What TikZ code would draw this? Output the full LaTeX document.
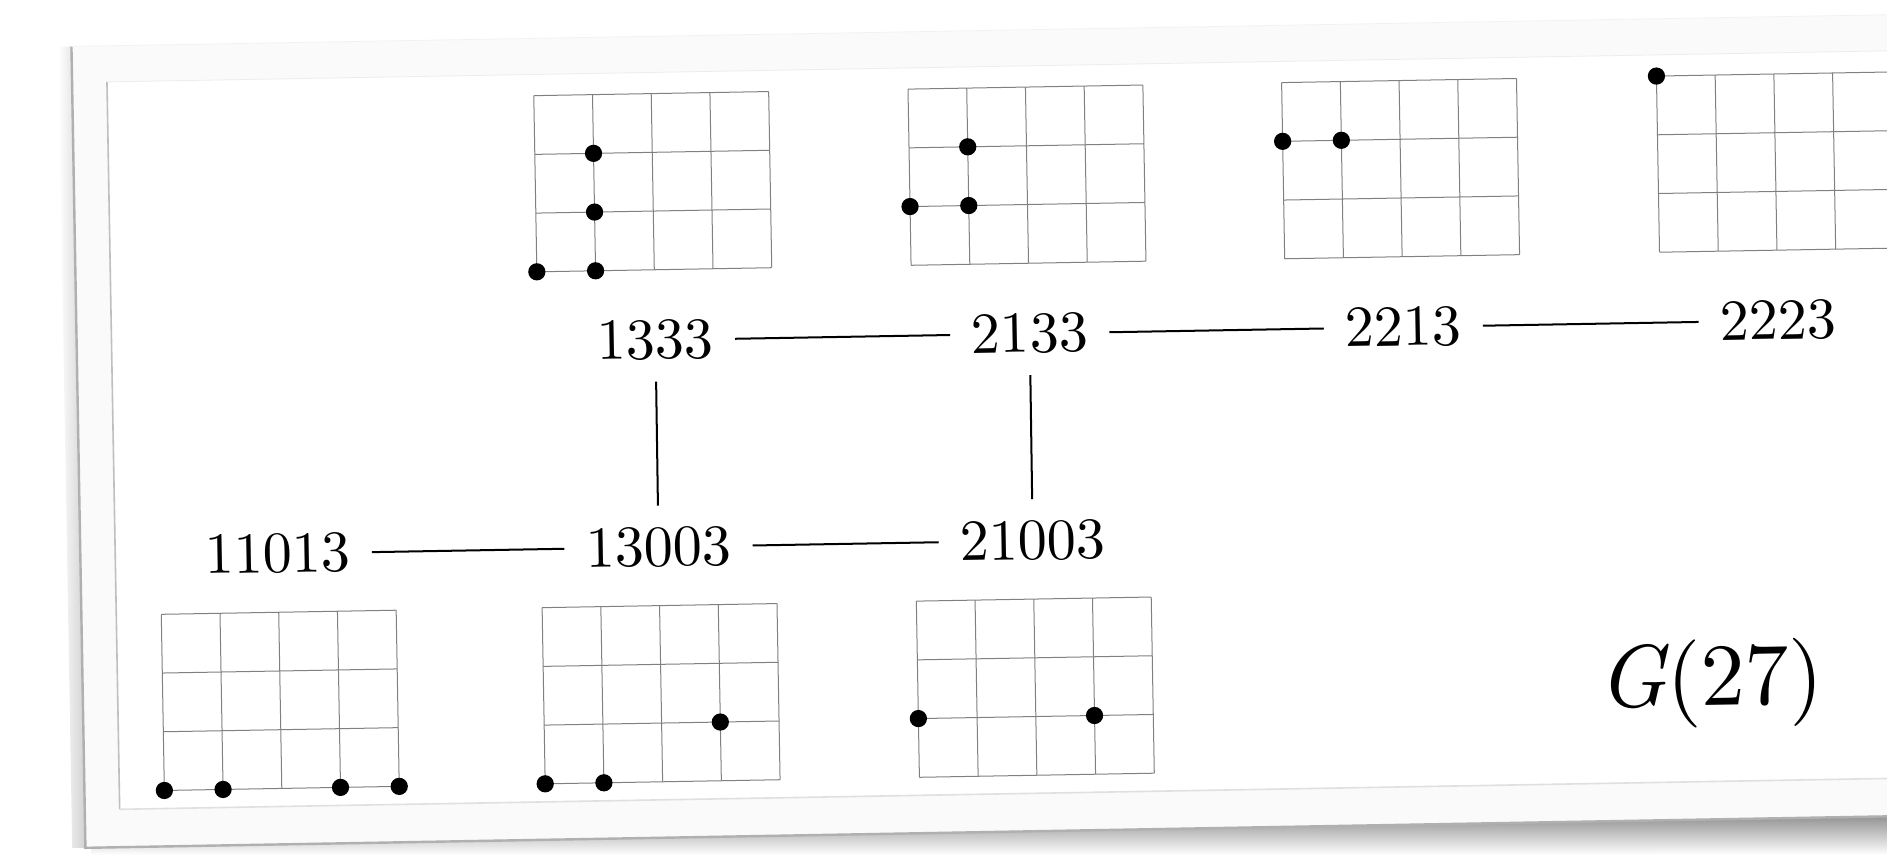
\documentclass[tikz,border=0pt]{standalone}
\usepackage{fontspec}
\usepackage{xcolor}
\usepackage{tikz}
\usetikzlibrary{calc}

\newfontfamily\lmten{lmroman10-regular.otf}
\newfontfamily\lmtenit{lmroman10-italic.otf}

\definecolor{sheet}{HTML}{FAFAFA}
\definecolor{rim}{HTML}{B0B0B0}

\tikzset{
  lbl/.style={inner sep=10.5pt, font=\lmten\fontsize{29}{34}\selectfont},
  title/.style={inner sep=0pt, font=\lmten\fontsize{44}{50}\selectfont},
  link/.style={line width=1pt},
  gridline/.style={black!50, line width=0.5pt},
  dot/.style={circle, fill=black, inner sep=0pt, minimum size=8.6pt},
}

% 4x3 board, lower left corner #1, dots #2 as col/row
\newcommand{\board}[2]{%
  \foreach \k in {0,...,4}
    \draw[gridline] ($(#1)+(48.8*\k,0)$) -- ++(0,146.4);
  \foreach \k in {0,...,3}
    \draw[gridline] ($(#1)+(0,48.8*\k)$) -- ++(195.2,0);
  \foreach \i/\j in {#2}
    \node[dot] (#1-\i\j) at ($(#1)+(48.8*\i,48.8*\j)$) {};
}

\begin{document}
\begin{tikzpicture}[x=0.6pt, y=0.6pt]
  \useasboundingbox (0,0) rectangle (1568,710);
  \clip (0,0) rectangle (1568,710);
  \begin{scope}[rotate around={1:(784,355)}, every node/.append style={transform shape}]

  % Sheet with shadow
  \shade[top color=black!45, bottom color=white] (70,18) -- (1700,18) -- (1700,-16) -- (70,12) -- cycle;
  \shade[left color=white, right color=black!18] (54,18) rectangle (65,684);
  \fill[sheet] (65,18) rectangle (1700,684);
  \draw[rim, line width=1.2pt] (65,684) -- (65,18) -- (1700,18);
  \draw[black!5] (65,684) -- (1700,684);

  % Inner frame
  \fill[white] (94,49.5) rectangle (1700,654);
  \draw[black!25, line width=0.8pt] (94,654) -- (94,49.5);
  \draw[black!12, line width=0.8pt] (94,49.5) -- (1700,49.5);
  \draw[black!7] (94,654) -- (1700,654);

  % Vertices
  \node[lbl] (n1333) at (546,431.5) {1333};
  \node[lbl] (n2133) at (857,431.5) {2133};
  \node[lbl] (n2213) at (1167.5,431.5) {2213};
  \node[lbl] (n2223) at (1479,431.5) {2223};
  \node[lbl] (n11013) at (229,259.5) {11013};
  \node[lbl] (n13003) at (545.5,259.5) {13003};
  \node[lbl] (n21003) at (856.5,259.5) {21003};
  \node[title] (gname) at (1418,131) {{\lmtenit G}(27)};

  % Edges
  \draw[link] (n1333) -- (n2133);
  \draw[link] (n2133) -- (n2213);
  \draw[link] (n2213) -- (n2223);
  \draw[link] (n11013) -- (n13003);
  \draw[link] (n13003) -- (n21003);
  \draw[link] (n1333) -- (n13003);
  \draw[link] (n2133) -- (n21003);

  % Boards
  \coordinate (b1333) at ($(n1333)+(-97.6,58.5)$);
  \coordinate (b2133) at ($(n2133)+(-97.6,58.5)$);
  \coordinate (b2213) at ($(n2213)+(-97.6,58.5)$);
  \coordinate (b2223) at ($(n2223)+(-97.6,58.5)$);
  \coordinate (b11013) at ($(n11013)+(-97.6,-195)$);
  \coordinate (b13003) at ($(n13003)+(-97.6,-195)$);
  \coordinate (b21003) at ($(n21003)+(-97.6,-195)$);

  \board{b1333}{0/0, 1/0, 1/1, 1/2}
  \board{b2133}{0/1, 1/1, 1/2}
  \board{b2213}{0/2, 1/2}
  \board{b2223}{0/3}
  \board{b11013}{0/0, 1/0, 3/0, 4/0}
  \board{b13003}{0/0, 1/0, 3/1}
  \board{b21003}{0/1, 3/1}

  \end{scope}
\end{tikzpicture}
\end{document}
